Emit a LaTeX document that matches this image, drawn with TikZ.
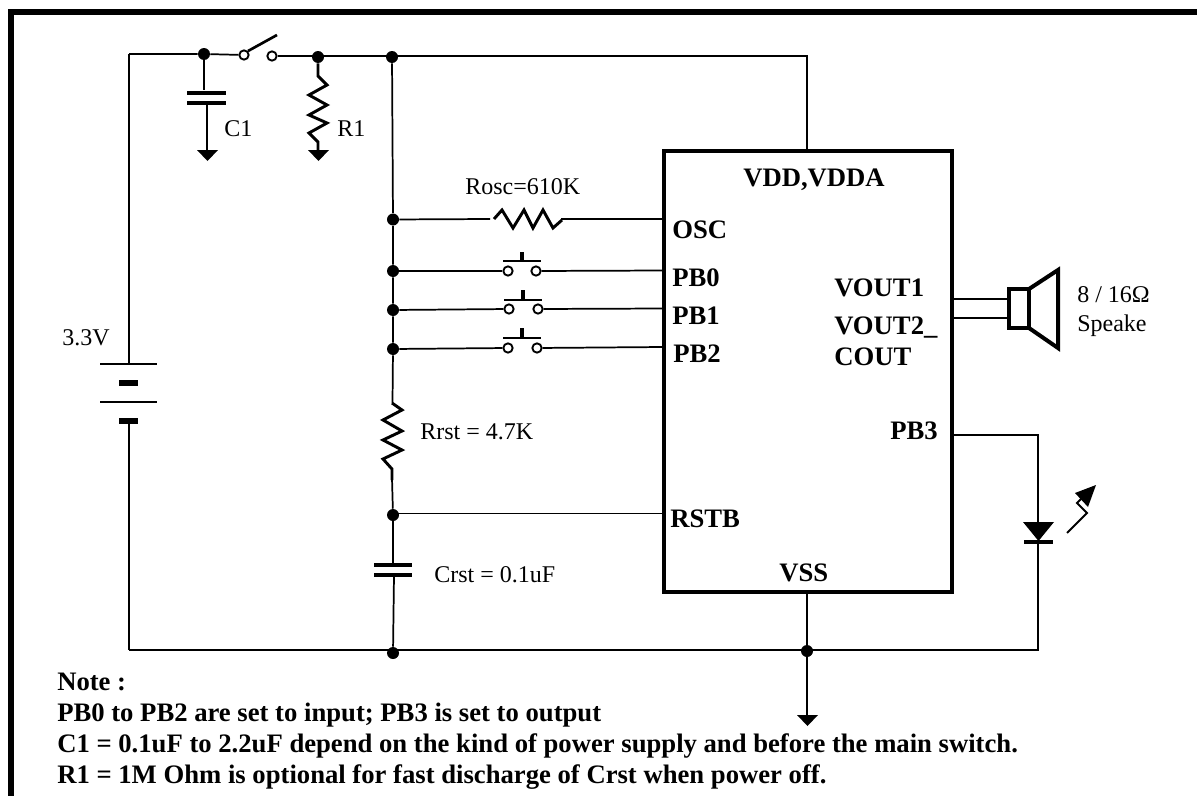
\documentclass[tikz,border=0pt]{standalone}
\usepackage{fontspec}
\setmainfont{Liberation Serif}
\usetikzlibrary{calc}
\tikzset{
 wire/.style={line width=1.3pt},
 plate/.style={line width=3pt},
 zig/.style={line width=2.2pt,line join=miter},
 dot/.style={circle,fill=black,inner sep=0pt,minimum size=9pt},
 ring/.style={circle,draw=black,fill=white,line width=1.4pt,inner sep=0pt,minimum size=7pt},
 lab/.style={inner sep=0pt,font=\fontsize{18}{20}\selectfont,anchor=base west},
 pin/.style={inner sep=0pt,font=\fontsize{20}{22}\selectfont\bfseries,anchor=base west},
 note/.style={inner sep=0pt,font=\fontsize{20}{22}\selectfont\bfseries,anchor=base west}
}
\begin{document}
\begin{tikzpicture}[x=0.75pt,y=-0.75pt]
\useasboundingbox (0,0) rectangle (1197,796);
% frame
\fill (8,9) rectangle (1197,14.5);
\fill (8,9) rectangle (13.5,796);
% chip
\node[draw,line width=3pt,minimum width=216pt,minimum height=330.75pt,inner sep=0pt,outer sep=0pt,anchor=north west] (chip) at (663.5,151) {};
% named junctions
\node[dot] (j1) at (204,54) {};
\node[dot] (j2) at (318,57) {};
\node[dot] (j3) at (392,57) {};
\node[dot] (jo) at (393,219.5) {};
\node[dot] (jb0) at (393,271) {};
\node[dot] (jb1) at (393,310) {};
\node[dot] (jb2) at (393,349) {};
\node[dot] (jr) at (393,515) {};
\node[dot] (jg) at (393,653) {};
\node[dot] (jv) at (807,651) {};
% top rail
\coordinate (tl) at (129,54);
\coordinate (bl) at (129,650);
\coordinate (tr) at (807,56);
\node[ring] (sw1) at (244,55) {};
\node[ring] (sw2) at (272,56) {};
\coordinate (swtip) at (277,35);
\draw[line width=2pt] (sw1.north east) -- (swtip);
\draw[wire] (tl) -- (j1) -- (sw1);
\draw[wire] (sw2) -- (318,56) -- (392,56) -- (tr) -- (tr |- chip.north);
% battery
\draw[wire] (tl) -- (129,363);
\draw[line width=2pt] (100,364) -- (157,364);
\fill (119,380) rectangle (138,386);
\draw[line width=2pt] (100,402) -- (157,402);
\fill (119,418) rectangle (138,424);
\draw[wire] (129,424) -- (bl);
\draw[wire] (bl) -- (1038,650) -- (1038,544);
\draw[wire] (jg) -- (393,650);
\node[lab] (vbat) at (62,345) {3.3V};
% C1
\draw[wire] (j1) -- (204,90);
\draw[plate] (187,93) -- (226,93);
\draw[plate] (187,103) -- (226,103);
\draw[wire] (207,103) -- (207,150);
\fill (197,150) -- (218,150) -- (207.5,161) -- cycle;
\node[lab] (c1) at (224,136) {C1};
% R1
\draw[zig] (j2) -- (318,76) -- (327,85) -- (309,95) -- (327,105) -- (309,115) -- (327,123) -- (309,133) -- (318,142) -- (318,150);
\fill (308,150) -- (329,150) -- (318.5,161) -- cycle;
\node[lab] (r1) at (337,136) {R1};
% left bus
\draw[wire] (j3) -- (jo) -- (jb0) -- (jb1) -- (jb2) -- (392.5,403);
\draw[zig] (392,403) -- (402,410) -- (383,420) -- (402,431) -- (383,440) -- (402,450) -- (383,459) -- (392,469) -- (392,480);
\draw[wire] (392,478) -- (jr);
\draw[wire] (jr) -- (393,563);
\draw[plate] (374,565) -- (412,565);
\draw[plate] (374,574.5) -- (412,574.5);
\draw[wire] (394,575) -- (jg);
\node[lab] (rrst) at (420,439) {Rrst = 4.7K};
\node[lab] (crst) at (434,582) {Crst = 0.1uF};
% OSC
\draw[wire] (jo) -- (490,219);
\draw[zig] (494,219) -- (502,210) -- (513,228) -- (524,210) -- (533,228) -- (543,210) -- (553,228) -- (562,220);
\draw[wire] (561,219) -- (chip.west |- 0,219);
\node[lab] (rosc) at (465,194) {Rosc=610K};
% switches
\node[ring] (a0) at (508,271) {};
\node[ring] (b0) at (536,271) {};
\node[ring] (a1) at (509,309) {};
\node[ring] (b1) at (538,309) {};
\node[ring] (a2) at (508,348) {};
\node[ring] (b2) at (537,348) {};
\draw[line width=2.2pt] (503,261) -- (541,261);
\draw[line width=3pt] (522,261) -- (522,252);
\draw[line width=2.2pt] (504,300) -- (542,300);
\draw[line width=3pt] (523,300) -- (523,290);
\draw[line width=2.2pt] (503,338) -- (541,338);
\draw[line width=3pt] (522,338) -- (522,328);
\draw[wire] (jb0) -- (a0); \draw[wire] (b0) -- (chip.west |- 0,270.5);
\draw[wire] (jb1) -- (a1); \draw[wire] (b1) -- (chip.west |- 0,308.5);
\draw[wire] (jb2) -- (a2); \draw[wire] (b2) -- (chip.west |- 0,347);
% RSTB
\draw[wire] (393,513.5) -- (chip.west |- 0,513.5);
% pin labels
\node[pin] (pvdd) at (743,186) {VDD,VDDA};
\node[pin] (posc) at (672,238) {OSC};
\node[pin] (pb0) at (672,286) {PB0};
\node[pin] (pb1) at (672,324) {PB1};
\node[pin] (pb2) at (673,362) {PB2};
\node[pin] (prst) at (670,527) {RSTB};
\node[pin] (pvss) at (779,581) {VSS};
\node[pin] (pv1) at (834,296) {VOUT1};
\node[pin] (pv2) at (834,334) {VOUT2\_};
\node[pin] (pco) at (834,365) {COUT};
\node[pin] (pb3) at (890,439) {PB3};
% speaker
\draw[wire] (chip.east |- 0,299) -- (1009,299);
\draw[wire] (chip.east |- 0,318) -- (1009,318);
\draw[plate,line join=miter] (1009,289) rectangle (1029,328);
\draw[plate,line join=miter] (1029,289) -- (1058,270) -- (1058,348) -- (1029,328);
\node[lab] (sp1) at (1077,302) {8 / 16Ω};
\node[lab] (sp2) at (1077,331) {Speake};
% PB3 LED
\draw[wire] (chip.east |- 0,435) -- (1038,435) -- (1038,522);
\fill (1023,522) -- (1054,522) -- (1038.5,541) -- cycle;
\draw[line width=2.8pt] (1024,542) -- (1053,542);
\draw[line width=1.4pt] (1067,533) -- (1087,513) -- (1077,503) -- (1083,497);
\fill (1096,485) -- (1075,493) -- (1088,507) -- cycle;
% ground
\draw[wire] (tr |- chip.south) -- (jv) -- (807,716);
\fill (797,715) -- (818,715) -- (807.5,726) -- cycle;
% note
\node[note] (n0) at (57,690) {Note :};
\node[note] (n1) at (57,721) {PB0 to PB2 are set to input; PB3 is set to output};
\node[note] (n2) at (57,752) {C1 = 0.1uF to 2.2uF depend on the kind of power supply and before the main switch.};
\node[note] (n3) at (57,783) {R1 = 1M Ohm is optional for fast discharge of Crst when power off.};
\end{tikzpicture}
\end{document}
